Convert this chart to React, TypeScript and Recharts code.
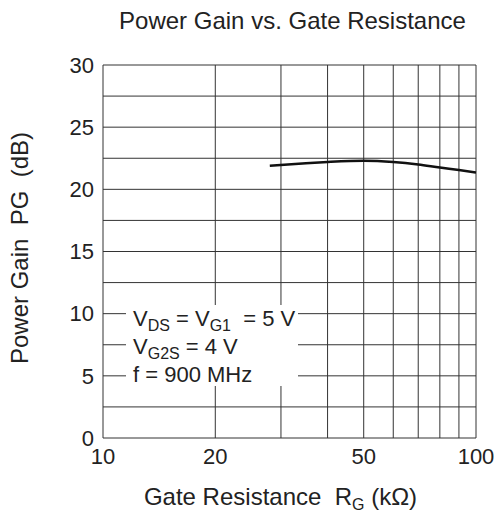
import { LineChart, Line, XAxis, YAxis, CartesianGrid } from "recharts";

const R_G = [28, 35, 40, 50, 60, 70, 80, 90, 100];
const PG = [21.9, 22.1, 22.2, 22.3, 22.2, 22.0, 21.75, 21.55, 21.35];

const X_TICKS = [10, 20, 30, 40, 50, 60, 70, 80, 90, 100];
const X_LABELED = [10, 20, 50, 100];
const Y_TICKS = [0, 2.5, 5, 7.5, 10, 12.5, 15, 17.5, 20, 22.5, 25, 27.5, 30];

const data = R_G.map((r, i) => ({ r, pg: PG[i] }));

const font = "'Liberation Sans', Arial, sans-serif";
// subscripts shifted down without growing the line box
const sub = {
  fontSize: 16,
  verticalAlign: "baseline",
  position: "relative" as const,
  top: 5,
  lineHeight: 0,
};

export default function App() {
  return (
    <div
      style={{
        position: "fixed",
        left: 0,
        top: 0,
        width: 495,
        height: 524,
        background: "#fff",
        fontFamily: font,
        color: "#222",
      }}
    >
      <LineChart
        width={495}
        height={524}
        data={data}
        margin={{ top: 65, right: 19, left: 53, bottom: 56 }}
      >
        <CartesianGrid stroke="#333" strokeWidth={1} fill="none" />
        <XAxis
          dataKey="r"
          type="number"
          scale="log"
          domain={[10, 100]}
          ticks={X_TICKS}
          interval={0}
          height={30}
          axisLine={false}
          tickLine={false}
          tickFormatter={(v: number) => (X_LABELED.includes(v) ? String(v) : "")}
          tick={{ fontSize: 22, fill: "#222", fontFamily: font, dy: 2 }}
        />
        <YAxis
          type="number"
          domain={[0, 30]}
          ticks={Y_TICKS}
          interval={0}
          width={50}
          axisLine={false}
          tickLine={false}
          tickFormatter={(v: number) => (v % 5 === 0 ? String(v) : "")}
          tick={{ fontSize: 22, fill: "#222", fontFamily: font, dx: -1 }}
        />
        <Line
          dataKey="pg"
          stroke="#111"
          strokeWidth={2.5}
          dot={false}
          type="monotone"
          isAnimationActive={false}
        />
      </LineChart>

      <div
        style={{
          position: "absolute",
          left: 0,
          width: 495,
          top: 7,
          textAlign: "center",
          paddingLeft: 90,
          boxSizing: "border-box",
          fontSize: 24,
        }}
      >
        Power Gain vs. Gate Resistance
      </div>

      <div
        style={{
          position: "absolute",
          left: 20,
          top: 248,
          transform: "translate(-50%, -50%) rotate(-90deg)",
          whiteSpace: "pre",
          fontSize: 24,
        }}
      >
        {"Power Gain  PG  (dB)"}
      </div>

      <div
        style={{
          position: "absolute",
          left: 0,
          width: 495,
          top: 482,
          textAlign: "center",
          paddingLeft: 66,
          boxSizing: "border-box",
          whiteSpace: "pre",
          fontSize: 24,
          lineHeight: "30px",
        }}
      >
        {"Gate Resistance  R"}
        <span style={sub}>G</span>
        {" (kΩ)"}
      </div>

      <div
        style={{
          position: "absolute",
          left: 126,
          top: 305,
          width: 172,
          height: 81,
          background: "#fff",
          fontSize: 22,
          lineHeight: "28px",
          paddingLeft: 7,
          boxSizing: "border-box",
          whiteSpace: "pre",
        }}
      >
        <div>
          V<span style={sub}>DS</span> = V<span style={sub}>G1</span>
          {"  = 5 V"}
        </div>
        <div>
          V<span style={sub}>G2S</span> = 4 V
        </div>
        <div>f = 900 MHz</div>
      </div>
    </div>
  );
}
